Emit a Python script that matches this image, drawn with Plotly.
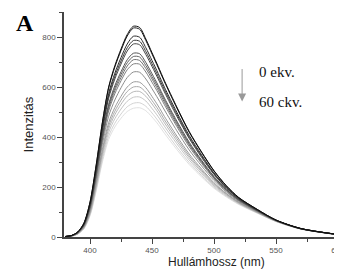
import plotly.graph_objects as go

# Wavelength grid (nm)
wavelength = [380, 385, 390, 395, 400, 405, 410, 415, 420, 425, 430, 435, 440, 445,
              450, 455, 460, 470, 480, 490, 500, 510, 520, 535, 550, 570, 600]

# Emission spectra, from 0 ekv. (darkest, highest) to 60 ekv. (lightest, lowest)
s01 = [2, 6, 20, 55, 140, 290, 460, 600, 685, 752, 810, 843, 838, 792, 737, 682, 625, 520, 422, 340, 265, 205, 158, 110, 68, 34, 10]
s02 = [2, 6, 20, 54, 139, 288, 457, 596, 680, 746, 804, 836, 831, 786, 732, 677, 621, 516, 419, 338, 264, 204, 157, 110, 68, 34, 10]
s03 = [2, 6, 19, 52, 133, 277, 440, 574, 655, 718, 772, 803, 799, 757, 706, 654, 599, 499, 406, 328, 256, 200, 155, 108, 67, 33, 10]
s04 = [2, 5, 18, 51, 130, 272, 432, 564, 643, 704, 757, 786, 783, 742, 693, 642, 589, 491, 399, 323, 253, 197, 153, 107, 67, 34, 10]
s05 = [2, 5, 18, 50, 128, 267, 425, 555, 632, 692, 744, 772, 769, 730, 682, 632, 580, 483, 394, 318, 250, 195, 152, 107, 67, 34, 10]
s06 = [2, 5, 17, 48, 122, 256, 408, 531, 605, 661, 709, 735, 733, 698, 653, 606, 556, 464, 379, 307, 242, 190, 149, 105, 66, 33, 10]
s07 = [2, 5, 17, 47, 120, 251, 401, 523, 595, 650, 697, 722, 720, 686, 642, 597, 548, 457, 373, 303, 239, 188, 148, 105, 66, 33, 10]
s08 = [2, 5, 16, 46, 118, 247, 394, 514, 585, 638, 684, 709, 706, 674, 632, 587, 539, 450, 368, 299, 236, 187, 147, 104, 66, 33, 10]
s09 = [1, 5, 16, 44, 115, 242, 387, 504, 573, 625, 669, 692, 691, 660, 619, 576, 529, 442, 361, 294, 233, 184, 145, 103, 65, 33, 10]
s10 = [1, 4, 15, 42, 109, 231, 371, 483, 548, 597, 638, 660, 659, 632, 593, 552, 508, 425, 348, 284, 226, 180, 142, 102, 65, 33, 9]
s11 = [1, 4, 14, 39, 103, 219, 351, 457, 518, 563, 600, 620, 619, 597, 562, 524, 482, 404, 332, 272, 217, 174, 139, 100, 64, 33, 9]
s12 = [1, 4, 13, 38, 99, 212, 341, 444, 503, 547, 582, 600, 600, 579, 546, 510, 469, 394, 324, 266, 213, 172, 137, 99, 64, 33, 9]
s13 = [1, 4, 13, 37, 96, 206, 332, 432, 489, 531, 564, 581, 582, 563, 532, 497, 457, 384, 317, 260, 209, 169, 136, 98, 63, 32, 9]
s14 = [1, 3, 12, 35, 92, 199, 321, 418, 473, 512, 543, 559, 560, 544, 514, 481, 443, 373, 308, 253, 204, 166, 134, 97, 63, 32, 9]
s15 = [1, 3, 12, 33, 88, 191, 310, 403, 455, 492, 521, 535, 537, 523, 496, 464, 428, 360, 298, 246, 199, 163, 132, 96, 62, 32, 9]
s16 = [1, 3, 11, 32, 85, 185, 300, 390, 440, 475, 502, 515, 517, 505, 480, 450, 415, 350, 290, 240, 195, 160, 130, 95, 62, 32, 9]

series = [s01, s02, s03, s04, s05, s06, s07, s08, s09, s10, s11, s12, s13, s14, s15, s16]

x_ticks = [400, 450, 500, 550, 600]
y_ticks = [0, 200, 400, 600, 800]

fig = go.Figure()
n = len(series)
# draw lightest first so dark curves sit on top
for k in reversed(range(n)):
    g = int(15 + k * 210 / (n - 1))
    fig.add_trace(go.Scatter(
        x=wavelength, y=series[k], mode="lines",
        line=dict(color=f"rgb({g},{g},{g})", width=1, shape="spline", smoothing=0.8),
        showlegend=False, hoverinfo="skip"))

axis_font = dict(family="Arial, Liberation Sans, sans-serif", size=8, color="#555")
fig.update_xaxes(range=[379, 600], tickvals=x_ticks, ticks="outside", ticklen=5,
                 tickcolor="#444", showline=True, linecolor="#444", linewidth=1.5,
                 showgrid=False, zeroline=False, tickfont=axis_font,
                 minor=dict(dtick=25, tick0=400, ticks="outside", ticklen=3, tickcolor="#444"))
fig.update_yaxes(range=[0, 900], tickvals=y_ticks, ticks="outside", ticklen=5,
                 tickcolor="#444", showline=True, linecolor="#444", linewidth=1.5,
                 showgrid=False, zeroline=False, tickfont=axis_font,
                 minor=dict(dtick=100, tick0=0, ticks="outside", ticklen=3, tickcolor="#444"))

title_font = dict(family="Arial, Liberation Sans, sans-serif", size=12, color="#222")
serif = "Times New Roman, Liberation Serif, serif"
fig.add_annotation(text="Hullámhossz (nm)", xref="paper", yref="paper", x=0.558, y=-0.111,
                   xanchor="center", yanchor="middle", showarrow=False, font=title_font)
fig.add_annotation(text="Intenzitás", xref="paper", yref="paper", x=-0.128, y=0.5,
                   xanchor="center", yanchor="middle", textangle=-90, showarrow=False,
                   font=dict(family="Arial, Liberation Sans, sans-serif", size=13, color="#222"))
fig.add_annotation(text="<b>A</b>", xref="paper", yref="paper", x=-0.142, y=0.951,
                   xanchor="center", yanchor="middle", showarrow=False,
                   font=dict(family=serif, size=24, color="#000"))
fig.add_annotation(text="0 ekv.", xref="paper", yref="paper", x=0.704, y=0.733,
                   xanchor="left", yanchor="middle", showarrow=False,
                   font=dict(family=serif, size=15, color="#111"))
fig.add_annotation(text="60 ckv.", xref="paper", yref="paper", x=0.704, y=0.6,
                   xanchor="left", yanchor="middle", showarrow=False,
                   font=dict(family=serif, size=15, color="#111"))
fig.add_annotation(text="", xref="paper", yref="paper", x=0.65, y=0.602,
                   ax=0, ay=-34, axref="pixel", ayref="pixel",
                   showarrow=True, arrowhead=2, arrowsize=1.6, arrowwidth=1,
                   arrowcolor="#999")

# page body adds an 8px offset; margins compensate so the plot area lands
# where the reference has it
fig.update_layout(width=342, height=269, margin=dict(l=56, r=12, t=4, b=40),
                  paper_bgcolor="white", plot_bgcolor="white")

fig.write_html("out.html")
